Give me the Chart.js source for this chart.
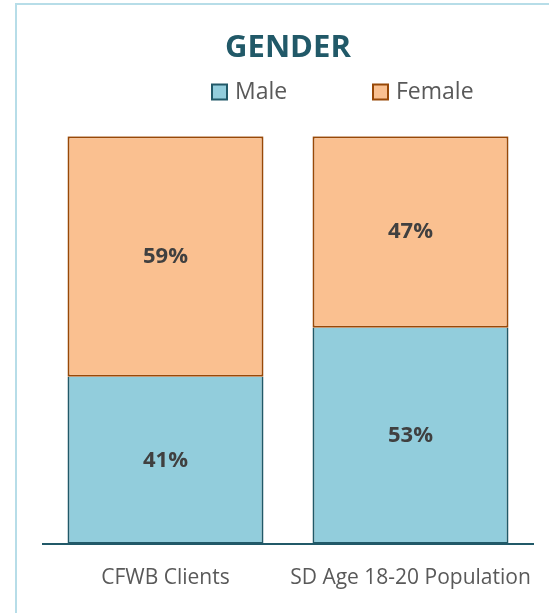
<!DOCTYPE html>
<html>
<head>
<meta charset="utf-8">
<script src="https://cdn.jsdelivr.net/npm/chart.js@4.4.1/dist/chart.umd.min.js"></script>
<style>
  body { margin: 0; background: #fff; }
  #wrap { position: relative; width: 549px; height: 613px; overflow: hidden; }
  #frame { position: absolute; left: 15px; top: 3px; width: 600px; height: 700px;
           border-left: 2px solid #b7dde8; border-top: 2px solid #b7dde8; }
  #canvas { position: absolute; left: 0; top: 0; }
</style>
</head>
<body>
<div id="wrap">
  <div id="frame"></div>
  <canvas id="canvas" width="549" height="613"></canvas>
</div>
<script>
var categories = ['CFWB Clients', 'SD Age 18-20 Population'];
var male = [41, 53];
var female = [59, 47];

var FONT = "'Open Sans', sans-serif";

// legend drawn by hand so the two entries can sit apart
var legendBoxes = {
  id: 'legendBoxes',
  afterDraw: function (chart) {
    var ctx = chart.ctx;
    var xs = [211, 372];
    var y = 92;
    ctx.save();
    ctx.font = '23px ' + FONT;
    ctx.textBaseline = 'middle';
    ctx.textAlign = 'left';
    chart.data.datasets.forEach(function (ds, i) {
      ctx.fillStyle = ds.backgroundColor;
      ctx.strokeStyle = ds.borderColor;
      ctx.lineWidth = 2;
      ctx.fillRect(xs[i] + 1, y - 7.5, 15, 15);
      ctx.strokeRect(xs[i] + 1, y - 7.5, 15, 15);
      ctx.fillStyle = '#595959';
      ctx.fillText(ds.label, xs[i] + 24, y);
    });
    ctx.restore();
  }
};

// percentage labels in the middle of each segment
var segmentLabels = {
  id: 'segmentLabels',
  afterDatasetsDraw: function (chart) {
    var ctx = chart.ctx;
    ctx.save();
    ctx.font = 'bold 22px ' + FONT;
    ctx.fillStyle = '#404040';
    ctx.textAlign = 'center';
    ctx.textBaseline = 'middle';
    chart.data.datasets.forEach(function (ds, i) {
      chart.getDatasetMeta(i).data.forEach(function (bar, j) {
        var p = bar.getProps(['x', 'y', 'base'], true);
        ctx.fillText(ds.data[j] + '%', p.x, (p.y + p.base) / 2);
      });
    });
    ctx.restore();
  }
};

var ctx = document.getElementById('canvas');
var myChart = new Chart(ctx, {
  type: 'bar',
  data: {
    labels: categories,
    datasets: [{
      label: 'Male',
      data: male,
      backgroundColor: '#92cddc',
      borderColor: '#215968',
      borderWidth: 2,
      borderSkipped: 'top'
    }, {
      label: 'Female',
      data: female,
      backgroundColor: '#fac090',
      borderColor: '#984807',
      borderWidth: 2,
      borderSkipped: false
    }]
  },
  options: {
    responsive: false,
    animation: false,
    layout: {
      padding: { left: 43, right: 16, top: 0, bottom: 19 }
    },
    plugins: {
      legend: { display: false },
      tooltip: { enabled: false },
      title: {
        display: true,
        text: 'GENDER',
        color: '#215968',
        font: { family: FONT, size: 31, weight: 'bold' },
        padding: { top: 30, bottom: 69 }
      }
    },
    scales: {
      x: {
        stacked: true,
        grid: { display: false, drawTicks: false },
        border: { color: '#215968', width: 2 },
        ticks: {
          color: '#595959',
          font: { family: FONT, size: 21 },
          padding: 21,
          maxRotation: 0,
          minRotation: 0,
          autoSkip: false
        },
        afterFit: function (scale) {
          // long last label may overhang the plot, don't shrink for it
          scale.height = 50;
          scale.paddingLeft = 0;
          scale.paddingRight = 0;
        }
      },
      y: {
        stacked: true,
        display: false,
        min: 0,
        max: 100
      }
    },
    datasets: {
      bar: { barPercentage: 0.8, categoryPercentage: 1 }
    }
  },
  plugins: [legendBoxes, segmentLabels]
});
</script>
</body>
</html>
